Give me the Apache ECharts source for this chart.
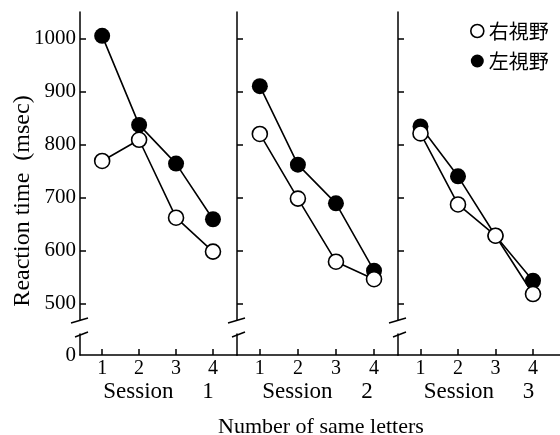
<!DOCTYPE html>
<html>
<head>
<meta charset="utf-8">
<script src="https://cdn.jsdelivr.net/npm/echarts@6/dist/echarts.min.js"></script>
<style>
  html, body { margin: 0; padding: 0; background: #fff; }
  #chart { width: 560px; height: 435px; }
</style>
</head>
<body>
<div id="chart"></div>
<script>
// 同じ文字の数
const letters = [1, 2, 3, 4]
const sessionNames = ['Session     1', 'Session     2', 'Session     3']
// 右視野 (白丸) / 左視野 (黒丸), session ごと
const rightSession1 = [769, 809, 662, 598]
const rightSession2 = [820, 698, 579, 546]
const rightSession3 = [821, 687, 628, 518]
const leftSession1 = [1005, 837, 764, 659]
const leftSession2 = [910, 762, 689, 562]
const leftSession3 = [834, 740, 628, 543]
const yTicks = [500, 600, 700, 800, 900, 1000]

const rightData = [rightSession1, rightSession2, rightSession3]
const leftData = [leftSession1, leftSession2, leftSession3]

const serif = 'Liberation Serif'
const black = '#000'

// panel layout
const panels = [
  { left: 80, width: 157, xMax: 4.65 },
  { left: 237, width: 161, xMax: 4.63 },
  { left: 398, width: 162, xMax: 4.72 }
]
const upperTop = 12, upperHeight = 308
const lowerTop = 334, lowerHeight = 21

const grid = [], xAxis = [], yAxis = [], series = [], graphic = []

panels.forEach((p, i) => {
  grid.push({ left: p.left, top: upperTop, width: p.width, height: upperHeight })
  grid.push({ left: p.left, top: lowerTop, width: p.width, height: lowerHeight })

  xAxis.push({
    gridIndex: 2 * i, type: 'value', min: 0.4, max: p.xMax, show: false
  })
  xAxis.push({
    gridIndex: 2 * i + 1, type: 'value', min: 0.4, max: p.xMax,
    axisLine: { show: true, onZero: false, lineStyle: { color: black, width: 1.5 } },
    axisTick: { show: true, inside: true, length: 6, customValues: letters, lineStyle: { color: black, width: 1.5 } },
    axisLabel: { customValues: letters, margin: 4, fontSize: 20, fontFamily: serif, color: black },
    splitLine: { show: false },
    name: sessionNames[i],
    nameLocation: 'middle',
    nameGap: 25,
    nameTextStyle: { fontSize: 23, fontFamily: serif, color: black }
  })

  yAxis.push({
    gridIndex: 2 * i, type: 'value', min: 469, max: 1050,
    axisLine: { show: true, lineStyle: { color: black, width: 1.5 } },
    axisTick: { show: true, inside: true, length: 6, customValues: yTicks, lineStyle: { color: black, width: 1.5 } },
    axisLabel: {
      show: i === 0, customValues: yTicks, margin: 4, fontSize: 21, fontFamily: serif, color: black,
      formatter: v => String(v)
    },
    splitLine: { show: false }
  })
  yAxis.push({
    gridIndex: 2 * i + 1, type: 'value', min: 0, max: 1,
    axisLine: { show: true, lineStyle: { color: black, width: 1.5 } },
    axisTick: { show: false },
    axisLabel: { show: i === 0, customValues: [0], margin: 4, fontSize: 21, fontFamily: serif, color: black },
    splitLine: { show: false }
  })

  series.push({
    name: '左視野', type: 'line', xAxisIndex: 2 * i, yAxisIndex: 2 * i,
    data: letters.map((x, j) => [x, leftData[i][j]]),
    symbol: 'circle', symbolSize: 16,
    itemStyle: { color: black },
    lineStyle: { color: black, width: 1.6 },
    z: 2
  })
  series.push({
    name: '右視野', type: 'line', xAxisIndex: 2 * i, yAxisIndex: 2 * i,
    data: letters.map((x, j) => [x, rightData[i][j]]),
    symbol: 'circle', symbolSize: 15,
    itemStyle: { color: '#fff', borderColor: black, borderWidth: 1.6 },
    lineStyle: { color: black, width: 1.6 },
    z: 3
  })

  // 軸の省略記号
  graphic.push({
    type: 'line', shape: { x1: p.left - 9, y1: 323, x2: p.left + 8, y2: 318 },
    style: { stroke: black, lineWidth: 1.5 }
  })
  graphic.push({
    type: 'line', shape: { x1: p.left - 5, y1: 337, x2: p.left + 8, y2: 332 },
    style: { stroke: black, lineWidth: 1.5 }
  })
})

graphic.push({
  type: 'text', x: 23, y: 201, rotation: Math.PI / 2,
  style: {
    text: 'Reaction time  (msec)', font: '24px "Liberation Serif"',
    fill: black, align: 'center', verticalAlign: 'middle'
  }
})

const option = {
  backgroundColor: '#fff',
  animation: false,
  title: {
    text: 'Number of same letters',
    left: 213, top: 411,
    textStyle: { fontFamily: serif, fontSize: 22, fontWeight: 'normal', color: black }
  },
  legend: {
    orient: 'vertical', left: 465, top: 16,
    itemWidth: 13, itemHeight: 13, itemGap: 10, itemTextGap: 8,
    icon: 'circle',
    textStyle: { fontFamily: 'Noto Sans CJK JP', fontSize: 20, color: black },
    data: [
      { name: '右視野', itemStyle: { color: '#fff', borderColor: black, borderWidth: 1.6 } },
      { name: '左視野', itemStyle: { color: black } }
    ]
  },
  grid: grid,
  xAxis: xAxis,
  yAxis: yAxis,
  series: series,
  graphic: graphic
}

const chart = echarts.init(document.getElementById('chart'))
chart.setOption(option)
</script>
</body>
</html>
